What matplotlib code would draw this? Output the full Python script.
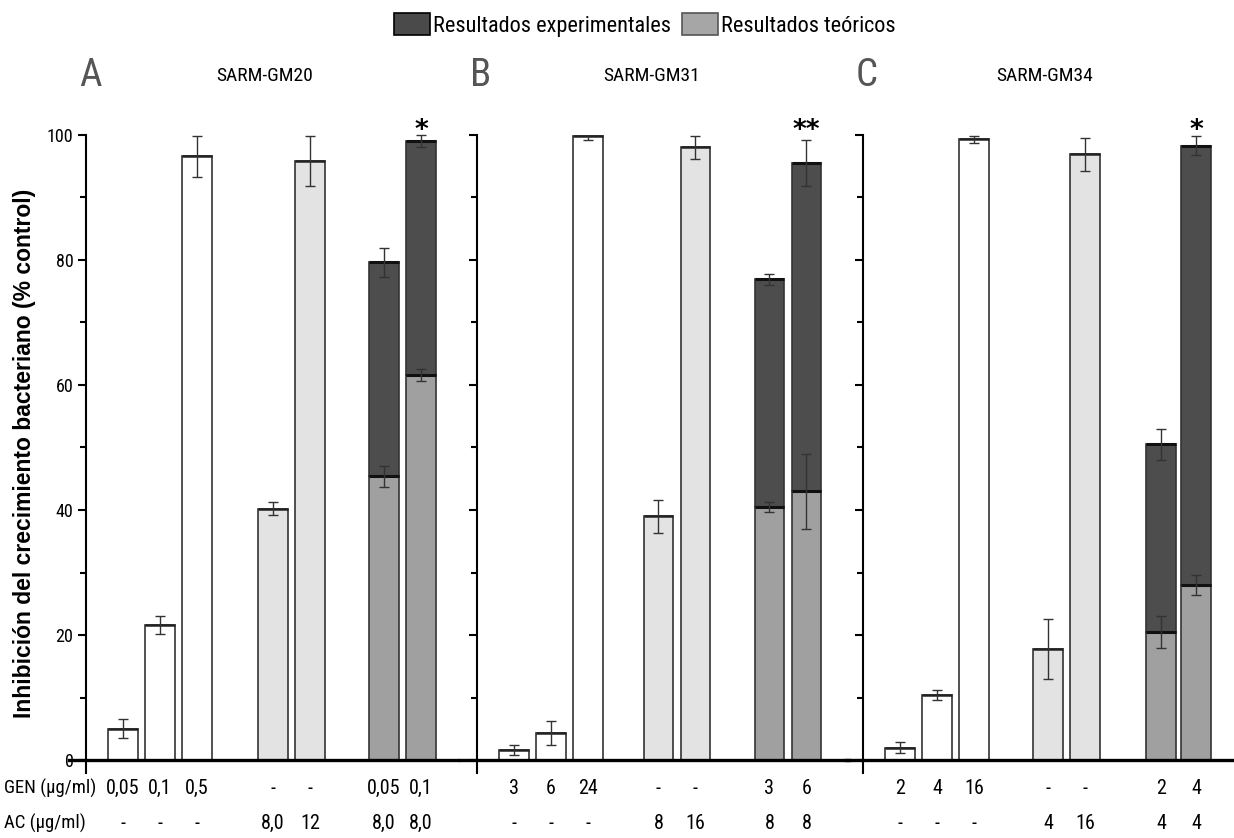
import matplotlib
matplotlib.use("Agg")
import matplotlib.pyplot as plt
from matplotlib.patches import Patch
from matplotlib import font_manager
import matplotlib.transforms as mtransforms
import numpy as np

# ---------------- data ----------------
panels = ["A", "B", "C"]
strains = ["SARM-GM20", "SARM-GM31", "SARM-GM34"]

# single-drug bars: 3 GEN (white) + 2 AC (light gray)
gen_vals = [[5.0, 21.6, 96.6], [1.6, 4.3, 99.8], [2.0, 10.4, 99.3]]
gen_errs = [[1.5, 1.5, 3.3], [0.85, 1.9, 0.6], [0.85, 0.85, 0.6]]
ac_vals = [[40.2, 95.9], [39.0, 98.0], [17.8, 96.9]]
ac_errs = [[1.0, 4.0], [2.6, 1.9], [4.8, 2.6]]
# combinations: theoretical (bottom) and experimental (total height)
theo_vals = [[45.4, 61.6], [40.5, 43.0], [20.5, 28.0]]
theo_errs = [[1.7, 1.0], [0.8, 6.0], [2.55, 1.55]]
exp_vals = [[79.6, 99.0], [76.9, 95.5], [50.5, 98.3]]
exp_errs = [[2.3, 1.0], [0.85, 3.7], [2.5, 1.5]]
signif = [["", "*"], ["", "**"], ["", "*"]]

gen_labels = [["0,05", "0,1", "0,5", "-", "-", "0,05", "0,1"],
              ["3", "6", "24", "-", "-", "3", "6"],
              ["2", "4", "16", "-", "-", "2", "4"]]
ac_labels = [["-", "-", "-", "8,0", "12", "8,0", "8,0"],
             ["-", "-", "-", "8", "16", "8", "8"],
             ["-", "-", "-", "4", "16", "4", "4"]]

legend_labels = ["Resultados experimentales", "Resultados teóricos"]
ylabel = "Inhibición del crecimiento bacteriano (% control)"

# ---------------- style ----------------
_names = {f.name for f in font_manager.fontManager.ttflist}
NARROW, FS = "Liberation Sans", 0.84
for cand in ["Liberation Sans Narrow", "Arial Narrow", "Roboto Condensed"]:
    if cand in _names:
        NARROW, FS = cand, 1.0
        break

C_WHITE = "#ffffff"
C_LIGHT = "#e3e3e3"
C_MED = "#a0a0a0"
C_DARK = "#4d4d4d"
EDGE = "#333333"

W, H = 1234, 838
fig = plt.figure(figsize=(W / 100, H / 100), dpi=100)

positions = [[0, 1, 2, 4.05, 5.05, 7.05, 8.05],
             [0, 1, 2, 3.9, 4.9, 6.9, 7.9],
             [0, 1, 2, 4.0, 5.0, 7.05, 8.0]]
lefts_px = [86, 477, 863]
ax_w_px = 372
y_lo, y_hi = -2.0, 100.0
ax_bottom = (H - 772.5) / H
ax_top = (H - 135) / H
bw = 0.8

ekw = dict(ecolor="#333333", elinewidth=1.0, capsize=3.5, capthick=1.0, fmt="none")

for i in range(3):
    ax = fig.add_axes([lefts_px[i] / W, ax_bottom, ax_w_px / W, ax_top - ax_bottom])
    pos = positions[i]
    ax.set_xlim(-1.0, 9.05)
    ax.set_ylim(y_lo, y_hi)

    # white GEN bars
    gx = pos[0:3]
    ax.bar(gx, gen_vals[i], width=bw, color=C_WHITE, edgecolor=EDGE, linewidth=1.2, zorder=2)
    ax.errorbar(gx, gen_vals[i], yerr=gen_errs[i], zorder=4, **ekw)
    ax.hlines(gen_vals[i], np.array(gx) - bw / 2, np.array(gx) + bw / 2, color="#222222", lw=1.8, zorder=3)

    # light gray AC bars
    axx = pos[3:5]
    ax.bar(axx, ac_vals[i], width=bw, color=C_LIGHT, edgecolor=EDGE, linewidth=1.2, zorder=2)
    ax.errorbar(axx, ac_vals[i], yerr=ac_errs[i], zorder=4, **ekw)
    ax.hlines(ac_vals[i], np.array(axx) - bw / 2, np.array(axx) + bw / 2, color="#222222", lw=1.8, zorder=3)

    # combination: theoretical + experimental
    cx = np.array(pos[5:7])
    th = np.array(theo_vals[i])
    ex = np.array(exp_vals[i])
    ax.bar(cx, th, width=bw, color=C_MED, edgecolor=EDGE, linewidth=1.2, zorder=2)
    ax.bar(cx, ex - th, bottom=th, width=bw, color=C_DARK, edgecolor=EDGE, linewidth=1.2, zorder=2)
    ax.hlines(th, cx - bw / 2, cx + bw / 2, color="#111111", lw=2.2, zorder=3)
    ax.hlines(ex, cx - bw / 2, cx + bw / 2, color="#111111", lw=2.2, zorder=3)
    ax.errorbar(cx, th, yerr=theo_errs[i], zorder=4, **ekw)
    eb = ax.errorbar(cx, ex, yerr=exp_errs[i], zorder=4, **ekw)
    for art in list(eb.lines[1]) + list(eb.lines[2]):
        art.set_clip_on(False)
    for x, s in zip(cx, signif[i]):
        if s:
            ax.text(x, 100.6, s, ha="center", va="center", fontsize=19, fontweight="bold",
                    family="DejaVu Sans", clip_on=False)

    # baseline
    ax.axhline(0, xmin=-0.045, xmax=1.0, color="black", lw=2.4, zorder=5, clip_on=False)

    # axes styling
    for s in ["top", "right", "bottom"]:
        ax.spines[s].set_visible(False)
    ax.spines["left"].set_linewidth(1.5)
    ax.set_xticks([])
    ax.set_yticks(np.arange(0, 101, 20))
    ax.set_yticks(np.arange(10, 100, 20), minor=True)
    ax.tick_params(axis="y", which="major", direction="out", length=6, width=1.5, pad=3)
    ax.tick_params(axis="y", which="minor", direction="out", length=4, width=1.5)
    if i == 0:
        ax.set_yticklabels([str(v) for v in range(0, 101, 20)], family=NARROW, fontsize=13 * FS)
        ax.set_ylabel(ylabel, fontsize=16.5, fontweight="bold", family="Liberation Sans")
        ax.yaxis.set_label_coords((36 - 86) / ax_w_px, 0.5)
    else:
        ax.set_yticklabels([])

    # panel letter and title
    left_frac = lefts_px[i] / W
    fig.text(left_frac + 4 / W, (H - 75) / H, panels[i], fontsize=28 * FS, color="#555555",
             family=NARROW, ha="center", va="center")
    tcenter = [265, 652, 1045][i]
    fig.text(tcenter / W, (H - 76) / H, strains[i], fontsize=14 * FS, family=NARROW,
             ha="center", va="center")

    # concentration rows
    trans = mtransforms.blended_transform_factory(ax.transData, fig.transFigure)
    for x, g, a in zip(pos, gen_labels[i], ac_labels[i]):
        ax.text(x, (H - 788) / H, g, transform=trans, ha="center", va="center",
                fontsize=14.5 * FS, family=NARROW, clip_on=False)
        ax.text(x, (H - 823) / H, a, transform=trans, ha="center", va="center",
                fontsize=14.5 * FS, family=NARROW, clip_on=False)

fig.text(4 / W, (H - 788) / H, "GEN (µg/ml)", ha="left", va="center", fontsize=13.5 * FS, family=NARROW)
fig.text(4 / W, (H - 823) / H, "AC (µg/ml)", ha="left", va="center", fontsize=13.5 * FS, family=NARROW)

handles = [Patch(facecolor="#4a4a4a", edgecolor="black", linewidth=1.2),
           Patch(facecolor="#a6a6a6", edgecolor="#555555", linewidth=1.2)]
leg = fig.legend(handles, legend_labels, loc="center", bbox_to_anchor=(645 / W, (H - 25) / H),
                 ncol=2, frameon=False, fontsize=16 * FS, handlelength=1.6, handleheight=1.1,
                 handletextpad=0.15, columnspacing=0.5, borderpad=0.0)
for t in leg.get_texts():
    t.set_family(NARROW)

fig.savefig("out.png", dpi=100)
